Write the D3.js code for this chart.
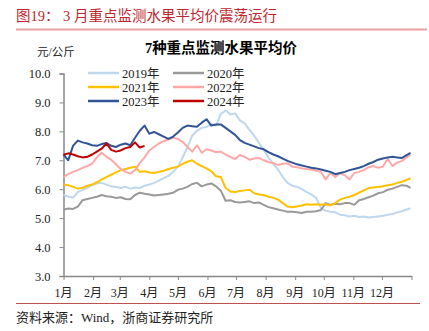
<!DOCTYPE html>
<html>
<head>
<meta charset="utf-8">
<script src="https://cdn.jsdelivr.net/npm/d3@7"></script>
<style>
  body { margin: 0; background: #fff; }
  text { font-family: "Liberation Serif", "Noto Sans CJK SC", serif; }
</style>
</head>
<body>
<svg id="chart" width="429" height="331"></svg>
<script>
// day of year for each sample (every 5 days)
const days = [0,5,10,15,20,25,30,35,40,45,50,55,60,65,70,75,80,85,90,95,100,105,110,115,120,125,130,135,140,145,150,155,160,165,170,175,180,185,190,195,200,205,210,215,220,225,230,235,240,245,250,255,260,265,270,275,280,285,290,295,300,305,310,315,320,325,330,335,340,345,350,355,360,364];

const y2019 = [5.81,5.74,5.71,5.9,5.98,6.05,6.14,6.2,6.22,6.16,6.1,6.08,6.04,6.08,6.02,6.06,6.04,6.12,6.16,6.22,6.3,6.38,6.46,6.6,6.78,7.1,7.45,7.85,8.02,8.12,8.15,8.25,8.2,8.6,8.72,8.58,8.62,8.38,8.28,8.05,7.85,7.6,7.36,7.1,6.88,6.68,6.42,6.22,6.12,6.08,6.0,5.9,5.82,5.7,5.35,5.26,5.22,5.2,5.12,5.1,5.06,5.08,5.04,5.06,5.02,5.04,5.06,5.08,5.12,5.14,5.2,5.24,5.3,5.34];
const y2020 = [5.29,5.33,5.32,5.4,5.62,5.66,5.7,5.74,5.8,5.76,5.74,5.7,5.72,5.66,5.65,5.8,5.88,5.84,5.82,5.78,5.8,5.82,5.84,5.88,5.98,6.02,6.08,6.18,6.22,6.1,6.16,6.2,6.1,5.95,5.6,5.62,5.56,5.54,5.56,5.58,5.52,5.54,5.46,5.38,5.34,5.3,5.26,5.22,5.22,5.2,5.18,5.22,5.22,5.24,5.28,5.52,5.46,5.5,5.48,5.52,5.52,5.46,5.62,5.66,5.72,5.78,5.86,5.9,5.98,6.02,6.08,6.14,6.12,6.05];
const y2021 = [6.16,6.14,6.08,6.02,6.05,6.12,6.16,6.24,6.34,6.42,6.5,6.58,6.66,6.7,6.74,6.78,6.6,6.62,6.58,6.56,6.6,6.64,6.7,6.74,6.78,6.88,6.95,7.0,6.88,6.8,6.72,6.62,6.45,6.42,6.05,5.92,5.9,5.94,5.96,5.98,5.86,5.82,5.8,5.74,5.7,5.64,5.52,5.4,5.38,5.4,5.44,5.48,5.46,5.48,5.46,5.48,5.44,5.52,5.64,5.7,5.74,5.8,5.88,5.96,6.04,6.06,6.08,6.1,6.14,6.16,6.22,6.26,6.32,6.38];
const y2022 = [6.43,6.52,6.6,6.66,6.74,6.8,6.88,7.1,7.26,7.12,7.02,6.86,6.7,6.6,6.54,6.66,6.9,7.1,7.34,7.46,7.58,7.66,7.72,7.78,7.74,7.64,7.46,7.3,7.52,7.26,7.38,7.34,7.28,7.3,7.2,7.12,7.04,7.18,7.12,7.02,7.06,7.08,7.0,6.94,6.9,6.84,6.88,6.9,6.78,6.76,6.72,6.7,6.68,6.64,6.6,6.34,6.56,6.42,6.56,6.48,6.34,6.56,6.6,6.66,6.76,6.8,6.74,6.78,7.06,6.8,6.92,6.98,7.1,7.2];
const y2023 = [7.2,7.0,7.5,7.68,7.62,7.58,7.52,7.5,7.56,7.6,7.5,7.46,7.54,7.58,7.52,7.78,8.02,8.2,7.92,7.98,7.9,7.82,7.74,7.82,7.96,8.12,8.2,8.18,8.16,8.3,8.42,8.2,8.24,8.24,8.12,8.0,7.88,7.7,7.6,7.54,7.48,7.42,7.38,7.28,7.2,7.14,7.06,6.98,6.92,6.86,6.82,6.78,6.74,6.72,6.68,6.64,6.6,6.52,6.56,6.6,6.66,6.7,6.74,6.8,6.88,6.94,7.02,7.06,7.1,7.12,7.1,7.08,7.18,7.26];
const y2024 = [7.19,7.24,7.2,7.14,7.1,7.12,7.2,7.3,7.4,7.58,7.36,7.3,7.34,7.42,7.46,7.62,7.44,7.5];

const seriesNames = ["2019年","2020年","2021年","2022年","2023年","2024年"];
const seriesColors = ["#bdd7ee","#999999","#ffc000","#ffa8a8","#2f5597","#c00000"];
const seriesValues = [y2019, y2020, y2021, y2022, y2023, y2024];

const monthStarts = [0,31,59,90,120,151,181,212,243,273,304,334,365];
const monthLabels = ["1月","2月","3月","4月","5月","6月","7月","8月","9月","10月","11月","12月"];
const yTicks = [3,4,5,6,7,8,9,10];

const svg = d3.select("#chart");

// header
svg.append("text").attr("x", 16).attr("y", 21)
  .attr("font-size", 14.5).attr("fill", "#c0262d")
  .text("图19：  3 月重点监测水果平均价震荡运行");
svg.append("line").attr("x1", 16).attr("x2", 427).attr("y1", 29.5).attr("y2", 29.5)
  .attr("stroke", "#e8a0a0").attr("stroke-width", 2);

// titles
svg.append("text").attr("x", 221).attr("y", 53).attr("text-anchor", "middle")
  .attr("font-size", 14.5).attr("font-weight", "bold").attr("fill", "#000")
  .text("7种重点监测水果平均价");
svg.append("text").attr("x", 37).attr("y", 56)
  .attr("font-size", 11.5).attr("fill", "#222").text("元/公斤");

const x = d3.scaleLinear().domain([0, 365]).range([63.5, 411.5]);
const y = d3.scaleLinear().domain([3, 10]).range([276, 73.5]);

// y axis
const yAxis = svg.append("g").attr("transform", "translate(63.5,0)")
  .call(d3.axisLeft(y).tickValues(yTicks).tickFormat(d3.format(".1f")).tickSize(4).tickPadding(9));
yAxis.select(".domain").attr("stroke", "#888").attr("stroke-width", 1.5);
yAxis.selectAll(".tick line").attr("stroke", "#888").attr("stroke-width", 1);
yAxis.selectAll(".tick text").attr("font-size", 12.5).attr("fill", "#222")
  .style("font-family", "Liberation Serif");

// x axis
const xAxis = svg.append("g").attr("transform", "translate(0,276)")
  .call(d3.axisBottom(x).tickValues(monthStarts).tickFormat("").tickSize(4).tickSizeOuter(0));
xAxis.select(".domain").attr("stroke", "#888").attr("stroke-width", 1.5);
xAxis.selectAll(".tick line").attr("stroke", "#888").attr("stroke-width", 1);
svg.append("g").selectAll("text").data(monthLabels).join("text")
  .attr("x", (d, i) => x(monthStarts[i]))
  .attr("y", 297).attr("text-anchor", "middle")
  .attr("font-size", 12).attr("fill", "#222")
  .text(d => d);

// lines
const line = d3.line().x((d, i) => x(days[i])).y(d => y(d));
svg.append("g").selectAll("path").data(seriesValues).join("path")
  .attr("d", d => line(d))
  .attr("fill", "none")
  .attr("stroke", (d, i) => seriesColors[i])
  .attr("stroke-width", 2)
  .attr("stroke-linejoin", "round");

// legend
const legend = svg.append("g");
seriesNames.forEach((name, i) => {
  const col = i % 2, row = Math.floor(i / 2);
  const lx = col === 0 ? 88 : 173;
  const ly = 73 + row * 14;
  legend.append("line").attr("x1", lx).attr("x2", lx + 31).attr("y1", ly).attr("y2", ly)
    .attr("stroke", seriesColors[i]).attr("stroke-width", 2.5);
  legend.append("text").attr("x", lx + 34).attr("y", ly + 4.5)
    .attr("font-size", 12.5).attr("fill", "#222").text(name);
});

// footer
svg.append("line").attr("x1", 16).attr("x2", 420).attr("y1", 303.5).attr("y2", 303.5)
  .attr("stroke", "#c0504d").attr("stroke-width", 1);
svg.append("text").attr("x", 16).attr("y", 322)
  .attr("font-size", 13).attr("fill", "#222")
  .text("资料来源：Wind，浙商证券研究所");
</script>
</body>
</html>
